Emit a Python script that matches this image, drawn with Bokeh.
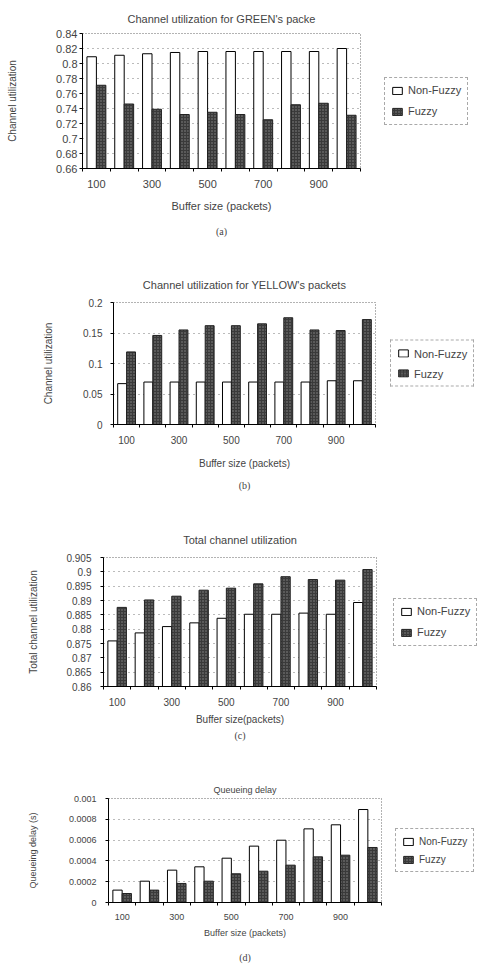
from bokeh.plotting import figure
from bokeh.models import (ColumnDataSource, FixedTicker, CustomJSTickFormatter,
                          Legend, LegendItem, Title, Range1d)
from bokeh.transform import dodge
from bokeh.embed import file_html
from bokeh.resources import INLINE

# ---------------- data ----------------
buffer_sizes = [100, 200, 300, 400, 500, 600, 700, 800, 900, 1000]
x_tick_labels = [100, 300, 500, 700, 900]

green_nonfuzzy = [0.809, 0.811, 0.813, 0.8147, 0.816, 0.816, 0.816, 0.816, 0.816, 0.820]
green_fuzzy = [0.771, 0.746, 0.739, 0.732, 0.735, 0.732, 0.725, 0.745, 0.747, 0.731]
green_yticks = [0.66, 0.68, 0.70, 0.72, 0.74, 0.76, 0.78, 0.80, 0.82, 0.84]

yellow_nonfuzzy = [0.067, 0.0696, 0.0696, 0.0696, 0.0696, 0.0696, 0.0696, 0.0696, 0.0717, 0.0717]
yellow_fuzzy = [0.119, 0.146, 0.155, 0.162, 0.162, 0.165, 0.175, 0.155, 0.154, 0.172]
yellow_yticks = [0.0, 0.05, 0.10, 0.15, 0.20]

total_nonfuzzy = [0.8759, 0.8787, 0.8809, 0.8822, 0.8838, 0.8852, 0.8852, 0.8856, 0.8852, 0.8893]
total_fuzzy = [0.8876, 0.8902, 0.8915, 0.8936, 0.8943, 0.8958, 0.8983, 0.8973, 0.8971, 0.9008]
total_yticks = [0.86, 0.865, 0.87, 0.875, 0.88, 0.885, 0.89, 0.895, 0.90, 0.905]

delay_nonfuzzy = [0.000119, 0.000205, 0.000311, 0.000343, 0.000426, 0.000542, 0.000599, 0.000708, 0.000747, 0.000894]
delay_fuzzy = [0.0000865, 0.000119, 0.000183, 0.000205, 0.000276, 0.000301, 0.000359, 0.000439, 0.000455, 0.000529]
delay_yticks = [0.0, 0.0002, 0.0004, 0.0006, 0.0008, 0.001]

series_names = ["Non-Fuzzy", "Fuzzy"]

FONT = "Liberation Sans"
SERIF = "Liberation Serif"


def make_panel(title, ylabel, xlabel, caption, nonfuzzy, fuzzy, yticks,
               frame_w, frame_h, left, right, top, bottom, fs,
               title_standoff, ylab_standoff, ytick_standoff, xtick_standoff,
               xlab_standoff, cap_standoff, leg_margin, leg_spacing):
    src = ColumnDataSource(dict(x=buffer_sizes, nf=nonfuzzy, fz=fuzzy))
    p = figure(frame_width=frame_w, frame_height=frame_h,
               min_border_left=left, min_border_right=right,
               min_border_top=top, min_border_bottom=bottom,
               x_range=Range1d(50, 1050), y_range=Range1d(yticks[0], yticks[-1]),
               output_backend="svg", toolbar_location=None)
    p.title.text = title
    p.title.align = "center"
    p.title.text_font = FONT
    p.title.text_font_style = "normal"
    p.title.text_font_size = f"{fs['title']}px"
    p.title.standoff = title_standoff

    base = yticks[0]
    r1 = p.vbar(x=dodge("x", -17, range=p.x_range), top="nf", bottom=base, width=34,
                source=src, fill_color="white", line_color="black", line_width=1)
    r2 = p.vbar(x=dodge("x", 17, range=p.x_range), top="fz", bottom=base, width=34,
                source=src, fill_color="#3a3a3a", line_color="#222222", line_width=1,
                hatch_pattern="dot", hatch_color="#8a8a8a", hatch_scale=3, hatch_weight=1)

    p.yaxis.ticker = FixedTicker(ticks=yticks)
    p.yaxis.formatter = CustomJSTickFormatter(
        code="return parseFloat(tick.toFixed(5)).toString();")
    p.yaxis.major_tick_out = 3
    p.yaxis.major_tick_in = 0
    p.yaxis.minor_tick_out = 0
    p.yaxis.major_label_standoff = ytick_standoff
    p.yaxis.axis_label = ylabel
    p.yaxis.axis_label_standoff = ylab_standoff
    p.yaxis.axis_label_text_font = FONT
    p.yaxis.axis_label_text_font_style = "normal"
    p.yaxis.axis_label_text_font_size = f"{fs['ylab']}px"
    p.yaxis.major_label_text_font = FONT
    p.yaxis.major_label_text_font_size = f"{fs['tick']}px"
    p.yaxis.axis_line_color = "black"

    minor = [b + 50 for b in [0] + buffer_sizes]
    p.xaxis.ticker = FixedTicker(ticks=x_tick_labels, minor_ticks=minor)
    p.xaxis.major_tick_out = 0
    p.xaxis.major_tick_in = 0
    p.xaxis.minor_tick_out = 3
    p.xaxis.minor_tick_in = 0
    p.xaxis.major_label_standoff = xtick_standoff
    p.xaxis.axis_label = xlabel
    p.xaxis.axis_label_standoff = xlab_standoff
    p.xaxis.axis_label_text_font = FONT
    p.xaxis.axis_label_text_font_style = "normal"
    p.xaxis.axis_label_text_font_size = f"{fs['xlab']}px"
    p.xaxis.major_label_text_font = FONT
    p.xaxis.major_label_text_font_size = f"{fs['tick']}px"
    p.xaxis.axis_line_color = "black"

    p.xgrid.grid_line_color = None
    p.ygrid.ticker = FixedTicker(ticks=yticks)
    p.ygrid.grid_line_color = "#777777"
    p.ygrid.grid_line_dash = "1 4"
    p.outline_line_color = "#666666"
    p.outline_line_dash = "1 2"

    cap = Title(text=caption, align="center", text_font=SERIF,
                text_font_style="normal", text_font_size=f"{fs['cap']}px",
                standoff=cap_standoff)
    p.add_layout(cap, "below")

    legend = Legend(items=[LegendItem(label=series_names[0], renderers=[r1]),
                           LegendItem(label=series_names[1], renderers=[r2])],
                    location="left", margin=leg_margin, padding=6, spacing=leg_spacing,
                    glyph_width=12, glyph_height=9, label_standoff=5,
                    label_text_font=FONT, label_text_font_size=f"{fs['leg']}px",
                    label_height=fs['leg'] + 2,
                    border_line_color="#555555", border_line_dash="1 1",
                    background_fill_color="white")
    p.add_layout(legend, "right")
    p.background_fill_color = "white"
    p.border_fill_color = "white"
    return p


pa = make_panel("Channel utilization for GREEN's packe", "Channel utilization",
                "Buffer size (packets)", "(a)", green_nonfuzzy, green_fuzzy, green_yticks,
                278, 135, 82, 134, 33, 82,
                dict(title=11, ylab=10, xlab=11, tick=11, cap=10, leg=11),
                18, 35, 2, 8, 9, 19, 24, 8)
pb = make_panel("Channel utilization for YELLOW's packets", "Channel utilization",
                "Buffer size (packets)", "(b)", yellow_nonfuzzy, yellow_fuzzy, yellow_yticks,
                262, 122, 113, 119, 52, 76,
                dict(title=11, ylab=10, xlab=10, tick=10, cap=10, leg=11),
                24, 26, 8, 8, 11, 13, 15, 7)
pc = make_panel("Total channel utilization", "Total channel utilization",
                "Buffer size(packets)", "(c)", total_nonfuzzy, total_fuzzy, total_yticks,
                273, 129, 103, 118, 57, 59,
                dict(title=11, ylab=10, xlab=10, tick=10, cap=10, leg=11),
                24, 24, 9, 8, 5, 0, 17, 8)
pd_ = make_panel("Queueing delay", "Queueing delay (s)",
                 "Buffer size (packets)", "(d)", delay_nonfuzzy, delay_fuzzy, delay_yticks,
                 273, 104, 108, 113, 53, 65,
                 dict(title=9, ylab=9, xlab=9, tick=9, cap=10, leg=10),
                 7, 28, 9, 8, 5, 18, 14, 6)

open("out.html", "w").write(file_html([pa, pb, pc, pd_], INLINE))
